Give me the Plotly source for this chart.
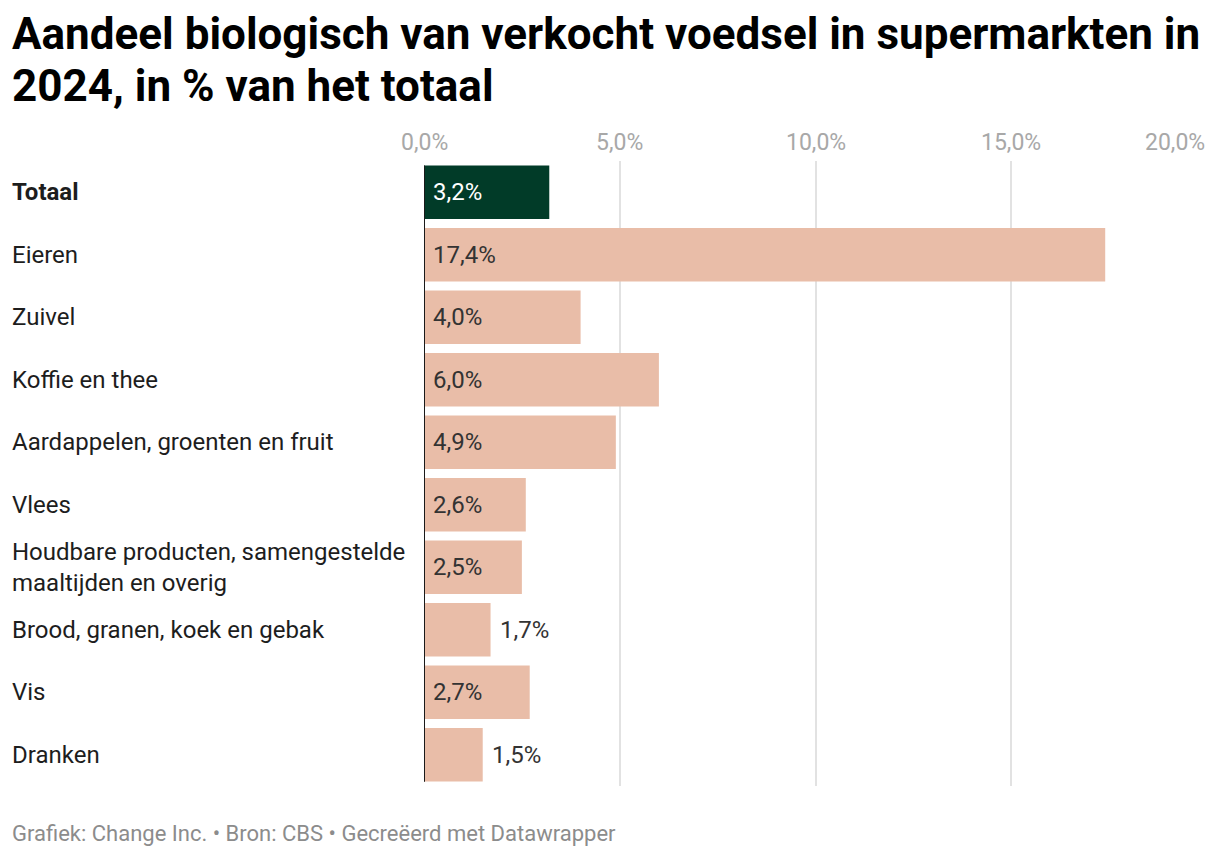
import plotly.graph_objects as go

categories = [
    "Totaal",
    "Eieren",
    "Zuivel",
    "Koffie en thee",
    "Aardappelen, groenten en fruit",
    "Vlees",
    "Houdbare producten, samengestelde<br>maaltijden en overig",
    "Brood, granen, koek en gebak",
    "Vis",
    "Dranken",
]
values = [3.2, 17.4, 4.0, 6.0, 4.9, 2.6, 2.5, 1.7, 2.7, 1.5]
tick_values = [0, 5, 10, 15, 20]
tick_labels = ["0,0%", "5,0%", "10,0%", "15,0%", "20,0%"]
title_lines = [
    "Aandeel biologisch van verkocht voedsel in supermarkten in",
    "2024, in % van het totaal",
]
footer = "Grafiek: Change Inc. • Bron: CBS • Gecreëerd met Datawrapper"

GREEN = "#013b28"
PEACH = "#e9bda8"
FONT = "Roboto"

# page body has an 8px margin, so the figure is a bit smaller than the window
OFF = 8
W, H = 1220 - 2 * OFF, 858 - 2 * OFF
L, R, T, B = 416, 5, 153, 64


def py(y_ref):
    # reference pixel (from top) -> paper y
    return (H - B - (y_ref - OFF)) / (H - T - B)


def px(x_ref):
    return (x_ref - OFF - L) / (W - L - R)


colors = [GREEN] + [PEACH] * (len(values) - 1)

fig = go.Figure()
fig.add_trace(go.Bar(
    x=values,
    y=categories,
    orientation="h",
    marker=dict(color=colors, line=dict(width=0)),
    hoverinfo="skip",
))

annotations = []

# title, one annotation per line to control spacing
for line, yc in zip(title_lines, [34, 86]):
    annotations.append(dict(
        x=px(10), xref="paper", y=py(yc), yref="paper",
        text=f"<b>{line}</b>", showarrow=False, xanchor="left", yanchor="middle",
        font=dict(family=FONT, size=44, color="#000000"),
    ))

# category labels on the left
for i, cat in enumerate(categories):
    label = f"<b>{cat}</b>" if i == 0 else cat
    annotations.append(dict(
        x=px(10), xref="paper", y=cat, yref="y",
        text=label, showarrow=False, xanchor="left", yanchor="middle",
        align="left", font=dict(family=FONT, size=24, color="#1d1d1d"),
    ))

# value labels (inside if bar is wide enough)
for i, (cat, v) in enumerate(zip(categories, values)):
    txt = f"{v:.1f}%".replace(".", ",")
    inside = v >= 2
    annotations.append(dict(
        x=0 if inside else v, xref="x", y=cat, yref="y",
        text=txt, showarrow=False, xanchor="left", yanchor="middle",
        xshift=7,
        font=dict(family=FONT, size=24, color="#ffffff" if i == 0 else "#333333"),
    ))

# top tick labels
for tv, tl in zip(tick_values, tick_labels):
    annotations.append(dict(
        x=tv, xref="x", y=py(142), yref="paper",
        text=tl, showarrow=False,
        xanchor="right" if tv == tick_values[-1] else "center",
        yanchor="middle",
        font=dict(family=FONT, size=23, color="#a8a8a8"),
    ))

# footer
annotations.append(dict(
    x=px(10), xref="paper", y=py(833), yref="paper",
    text=footer, showarrow=False, xanchor="left", yanchor="middle",
    font=dict(family=FONT, size=22, color="#8c8c8c"),
))

fig.update_layout(
    width=W, height=H,
    margin=dict(l=L, r=R, t=T, b=B),
    paper_bgcolor="white", plot_bgcolor="white",
    bargap=0.145,
    showlegend=False,
    xaxis=dict(
        range=[0, 20], tickvals=tick_values, showticklabels=False,
        showgrid=True, gridcolor="#e2e2e2", gridwidth=1.5,
        zeroline=False, fixedrange=True,
    ),
    yaxis=dict(
        autorange="reversed", showticklabels=False, showgrid=False,
        zeroline=False, fixedrange=True,
    ),
    shapes=[dict(
        type="line", xref="x", yref="paper", x0=0, x1=0, y0=0.007, y1=0.993,
        line=dict(color="#1a1a1a", width=2),
    )],
    annotations=annotations,
)

fig.write_html("out.html")
